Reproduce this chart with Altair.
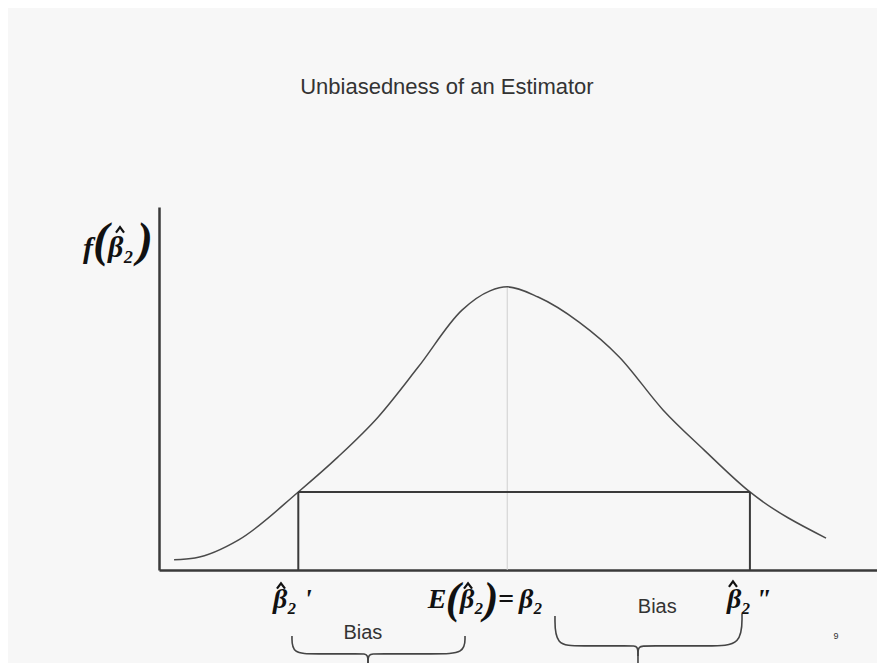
import altair as alt
import pandas as pd

# ---- data (abstract units: x in estimator units, y in density units) ----
curve_x = [0.21, 0.50, 1.11, 1.94, 2.49, 3.05, 3.61, 4.22, 4.61, 4.85, 5.28, 5.85, 6.41, 7.02, 7.59, 8.23, 9.29]
curve_y = [0.028, 0.033, 0.083, 0.215, 0.311, 0.421, 0.559, 0.716, 0.769, 0.780, 0.752, 0.683, 0.587, 0.441, 0.331, 0.215, 0.088]

beta_true = 4.85          # E(beta2-hat) = beta2
beta_low = 1.94           # beta2-hat'
beta_high = 8.23          # beta2-hat''
box_top = 0.215
peak = 0.780

# braces: left end, right end, center, top of ends, bar level, cusp level, stem end
brace_specs = [
    dict(name="b1", xl=1.852, xr=4.262, xc=2.911, ytl=-0.182, ytr=-0.182, ybar=-0.231, ycusp=-0.259, yend=-0.289),
    dict(name="b2", xl=5.515, xr=8.120, xc=6.671, ytl=-0.127, ytr=-0.121, ybar=-0.209, ycusp=-0.237, yend=-0.289),
]

label_text = ["Unbiasedness of an Estimator", "Bias", "Bias", "9"]
label_x = [4.01, 2.84, 6.94, 9.43]
label_y = [1.331, -0.174, -0.102, -0.182]
label_size = [22, 20, 20, 9]

# math labels as pieces (text, x, baseline y, size)
B2 = "\u03b2\u2082"
math_text = ["f", "(", B2, ")",
             B2, "'",
             "E", "(", B2, ")", "=", B2,
             B2, "\""]
math_x = [-0.989, -0.808, -0.529, -0.195,
          1.755, 2.075,
          3.872, 4.095, 4.359, 4.624, 4.833, 5.181,
          8.078, 8.415]
math_y = [0.860, 0.865, 0.862, 0.865,
          -0.105, -0.105,
          -0.105, -0.118, -0.105, -0.118, -0.105, -0.105,
          -0.105, -0.105]
math_size = [30, 48, 30, 48,
             28, 28,
             28, 44, 28, 44, 28, 28,
             28, 28]

# hats over the estimators (centre positions)
hat_x = [-0.543, 1.699, 4.304, 7.994]
hat_y = [0.937, -0.044, -0.044, -0.039]
hat_half_w = 0.056
hat_half_h = 0.0075

# ---- build tables ----
curve_df = pd.DataFrame({"x": curve_x, "y": curve_y, "o": range(len(curve_x))})

rows = []
for b in brace_specs:
    dx_l = (b["xc"] - b["xl"])
    dx_r = (b["xr"] - b["xc"])
    left = [(b["xl"], b["ytl"]), (b["xl"], b["ybar"]), (b["xl"] + dx_l * 0.30, b["ybar"]),
            (b["xc"] - dx_l * 0.08, b["ybar"]), (b["xc"], b["ybar"]), (b["xc"], b["ycusp"])]
    right = [(b["xr"], b["ytr"]), (b["xr"], b["ybar"]), (b["xr"] - dx_r * 0.30, b["ybar"]),
             (b["xc"] + dx_r * 0.08, b["ybar"]), (b["xc"], b["ybar"]), (b["xc"], b["ycusp"])]
    stem = [(b["xc"], b["ycusp"]), (b["xc"], b["yend"])]
    for part, pts in (("L", left), ("R", right), ("S", stem)):
        for i, (px, py) in enumerate(pts):
            rows.append({"id": b["name"] + part, "x": px, "y": py, "o": i})
brace_df = pd.DataFrame(rows)

hat_rows = []
for k, (cx, cy) in enumerate(zip(hat_x, hat_y)):
    for i, (dx, dy) in enumerate([(-hat_half_w, -hat_half_h), (0, hat_half_h), (hat_half_w, -hat_half_h)]):
        hat_rows.append({"id": f"h{k}", "x": cx + dx, "y": cy + dy, "o": i})
hat_df = pd.DataFrame(hat_rows)

rule_df = pd.DataFrame({
    "x": [beta_low, beta_high, beta_low],
    "x2": [beta_low, beta_high, beta_high],
    "y": [0, 0, box_top],
    "y2": [box_top, box_top, box_top],
})
center_df = pd.DataFrame({"x": [beta_true], "y": [0], "y2": [peak]})
label_df = pd.DataFrame({"t": label_text, "x": label_x, "y": label_y, "s": label_size})
math_df = pd.DataFrame({"t": math_text, "x": math_x, "y": math_y, "s": math_size})

xs = alt.Scale(domain=[0, 10], nice=False, zero=False)
ys = alt.Scale(domain=[0, 1], nice=False, zero=False)
ax = alt.Axis(domain=True, domainColor="#3a3a3a", domainWidth=2.5, ticks=False,
              labels=False, title=None, grid=False)

base_axes = alt.Chart(curve_df).mark_line(stroke="#4a4a4a", strokeWidth=1.5, interpolate="monotone").encode(
    x=alt.X("x:Q", scale=xs, axis=ax),
    y=alt.Y("y:Q", scale=ys, axis=ax),
    order="o:Q",
)

center = alt.Chart(center_df).mark_rule(stroke="#cfcfcf", strokeWidth=1).encode(
    x=alt.X("x:Q", scale=xs), y=alt.Y("y:Q", scale=ys), y2="y2:Q")

box = alt.Chart(rule_df).mark_rule(stroke="#3a3a3a", strokeWidth=2).encode(
    x=alt.X("x:Q", scale=xs), x2="x2:Q", y=alt.Y("y:Q", scale=ys), y2="y2:Q")

braces = alt.Chart(brace_df).mark_line(stroke="#444444", strokeWidth=1.6, interpolate="basis").encode(
    x=alt.X("x:Q", scale=xs), y=alt.Y("y:Q", scale=ys), detail="id:N", order="o:Q")

hats = alt.Chart(hat_df).mark_line(stroke="#111111", strokeWidth=2.2, strokeJoin="miter").encode(
    x=alt.X("x:Q", scale=xs), y=alt.Y("y:Q", scale=ys), detail="id:N", order="o:Q")

labels = alt.Chart(label_df).mark_text(font="Liberation Sans", color="#333333",
                                        align="center", baseline="middle").encode(
    x=alt.X("x:Q", scale=xs), y=alt.Y("y:Q", scale=ys), text="t:N",
    size=alt.Size("s:Q", scale=None, legend=None))

maths = alt.Chart(math_df).mark_text(font="Liberation Serif", fontWeight="bold", fontStyle="italic",
                                      color="#111111", align="center", baseline="alphabetic").encode(
    x=alt.X("x:Q", scale=xs), y=alt.Y("y:Q", scale=ys), text="t:N",
    size=alt.Size("s:Q", scale=None, legend=None))

chart = alt.layer(center, base_axes, box, braces, labels, maths, hats).properties(
    width=718, height=363,
    padding={"left": 151, "top": 199, "right": 0, "bottom": 93},
    autosize=alt.AutoSizeParams(type="none"),
    background="#f7f7f7",
).configure_view(stroke=None)

chart.save("out.html", embed_options={"renderer": "svg", "actions": False})
